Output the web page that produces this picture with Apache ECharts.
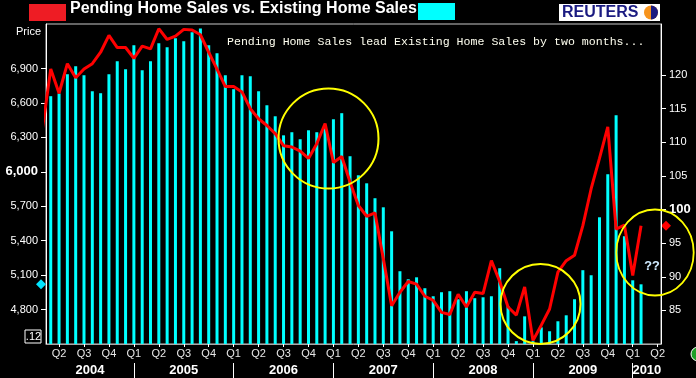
<!DOCTYPE html>
<html>
<head>
<meta charset="utf-8">
<script src="https://cdn.jsdelivr.net/npm/echarts@6/dist/echarts.min.js"></script>
<style>
  html, body { margin: 0; padding: 0; background: #000; }
  #chart { width: 696px; height: 378px; }
</style>
</head>
<body>
<div id="chart"></div>
<script>
// months shown on the chart (pending index starts one month earlier)
const months = [
  '2004-02', '2004-03', '2004-04', '2004-05', '2004-06', '2004-07', '2004-08', '2004-09', '2004-10', '2004-11', '2004-12',
  '2005-01', '2005-02', '2005-03', '2005-04', '2005-05', '2005-06', '2005-07', '2005-08', '2005-09', '2005-10', '2005-11', '2005-12',
  '2006-01', '2006-02', '2006-03', '2006-04', '2006-05', '2006-06', '2006-07', '2006-08', '2006-09', '2006-10', '2006-11', '2006-12',
  '2007-01', '2007-02', '2007-03', '2007-04', '2007-05', '2007-06', '2007-07', '2007-08', '2007-09', '2007-10', '2007-11', '2007-12',
  '2008-01', '2008-02', '2008-03', '2008-04', '2008-05', '2008-06', '2008-07', '2008-08', '2008-09', '2008-10', '2008-11', '2008-12',
  '2009-01', '2009-02', '2009-03', '2009-04', '2009-05', '2009-06', '2009-07', '2009-08', '2009-09', '2009-10', '2009-11', '2009-12',
  '2010-01', '2010-02'
];

// Pending home sales index (right axis), Feb 2004 .. Feb 2010
const pending = [
  112.0, 120.9, 117.3, 121.7, 119.6, 120.9, 121.7, 123.4, 125.9, 124.1, 124.1,
  122.5, 124.3, 123.9, 126.9, 125.3, 125.8, 126.8, 126.7, 126.0, 123.4, 120.9, 118.3,
  118.3, 117.5, 115.0, 113.5, 112.5, 111.3, 109.5, 109.3, 108.7, 107.6, 109.8, 112.8,
  107.0, 107.9, 104.1, 100.6, 99.0, 99.5, 92.7, 85.7, 87.7, 89.3, 88.9, 87.1,
  86.5, 84.7, 84.4, 87.4, 85.5, 87.7, 87.5, 92.4, 89.3, 85.5, 84.3, 88.5,
  80.5, 82.8, 85.2, 90.7, 92.4, 93.2, 97.6, 103.1, 107.6, 112.3, 97.1, 97.7,
  90.2, 97.6
];

// Existing home sales, thousands (left axis), Mar 2004 .. Feb 2010
const existingMonths = months.slice(1);
const existing = [
  6659, 6682, 6850, 6920, 6842, 6702, 6685, 6850, 6963, 6894,
  7103, 6885, 6963, 7120, 7085, 7164, 7138, 7216, 7249, 7103, 7033, 6842,
  6720, 6842, 6833, 6702, 6580, 6484, 6318, 6345, 6284, 6362, 6345, 6397,
  6458, 6511, 6136, 5970, 5900, 5770, 5691, 5482, 5134, 5064, 5081, 4986,
  4916, 4951, 4960, 4890, 4960, 4899, 4907, 4916, 5160, 4829, 4525, 4741,
  4525, 4645, 4611, 4698, 4750, 4890, 5143, 5099, 5604, 5979, 6493, 5439,
  5055, 5020
];

const leftTicks = [4800, 5100, 5400, 5700, 6000, 6300, 6600, 6900];
const rightTicks = [85, 90, 95, 100, 105, 110, 115, 120];
const quarterLabels = ['Q1', 'Q2', 'Q3', 'Q4'];
const years = ['2004', '2005', '2006', '2007', '2008', '2009', '2010'];

// x axis runs in months since Jan 2004
const xMin = 1.43, xMax = 75.4;
const monthIndex = m => (Number(m.slice(0, 4)) - 2004) * 12 + Number(m.slice(5, 7)) - 1;
const quarterTicks = [];
for (let v = 3; v <= 75; v += 3) quarterTicks.push(v);
const yearTicks = years.slice(1).map((y, i) => (i + 1) * 12);
const yearCenters = years.map((y, i) => {
  const a = Math.max(i * 12, xMin), b = Math.min((i + 1) * 12, xMax);
  return (a + b) / 2;
});

const fmt = v => String(v).replace(/\B(?=(\d{3})+(?!\d))/g, ',');
const font = 'Liberation Sans, Arial, sans-serif';

const chart = echarts.init(document.getElementById('chart'));

const option = {
  backgroundColor: '#000',
  animation: false,
  title: {
    text: 'Pending Home Sales vs. Existing Home Sales',
    left: 70,
    top: 1,
    padding: 0,
    textStyle: { color: '#fff', fontSize: 16, fontWeight: 'bold', fontFamily: font }
  },
  grid: {
    left: 46, right: 35, top: 24, bottom: 34,
    show: true, borderColor: '#c8c8c8', borderWidth: 1, backgroundColor: '#000'
  },
  xAxis: [
    {
      type: 'value', min: xMin, max: xMax,
      axisLine: { show: true, lineStyle: { color: '#a8a8a8' } },
      axisTick: { show: true, length: 3, customValues: quarterTicks, lineStyle: { color: '#fff' } },
      axisLabel: {
        customValues: quarterTicks, margin: 4, color: '#e6e6e6', fontSize: 11, fontFamily: font,
        formatter: v => quarterLabels[Math.round(v / 3) % 4]
      },
      splitLine: { show: false }
    },
    {
      type: 'value', min: xMin, max: xMax, position: 'bottom', offset: 19,
      axisLine: { show: false },
      axisTick: { show: true, length: 16, customValues: yearTicks, lineStyle: { color: '#fff' } },
      axisLabel: {
        customValues: yearCenters, margin: 1, color: '#fff', fontSize: 13, fontWeight: 'bold', fontFamily: font,
        formatter: v => years[Math.floor(v / 12)]
      },
      splitLine: { show: false }
    }
  ],
  yAxis: [
    {
      type: 'value', min: 4500, max: 7288, position: 'left',
      axisLine: { show: true, lineStyle: { color: '#fff' } },
      axisTick: { show: true, length: 5, customValues: leftTicks, lineStyle: { color: '#fff' } },
      axisLabel: {
        customValues: leftTicks, margin: 8, color: '#fff', fontSize: 11, fontFamily: font,
        formatter: v => v === 6000 ? '{b|' + fmt(v) + '}' : fmt(v),
        rich: { b: { color: '#fff', fontSize: 13, fontWeight: 'bold', fontFamily: font } }
      },
      splitLine: { show: false }
    },
    {
      type: 'value', min: 80, max: 127.6, position: 'right',
      axisLine: { show: true, lineStyle: { color: '#fff' } },
      axisTick: { show: true, length: 5, customValues: rightTicks, lineStyle: { color: '#fff' } },
      axisLabel: {
        customValues: rightTicks, margin: 8, color: '#fff', fontSize: 11, fontFamily: font,
        formatter: v => v === 100 ? '{b|100}' : String(v),
        rich: { b: { color: '#fff', fontSize: 13, fontWeight: 'bold', fontFamily: font } }
      },
      splitLine: { show: false }
    }
  ],
  series: [
    {
      name: 'Existing Home Sales',
      type: 'bar',
      xAxisIndex: 0, yAxisIndex: 0,
      barWidth: 3,
      itemStyle: { color: '#00ffff' },
      data: existingMonths.map((m, i) => [monthIndex(m), existing[i]])
    },
    {
      name: 'Pending Home Sales',
      type: 'line',
      xAxisIndex: 0, yAxisIndex: 1,
      symbol: 'none',
      z: 5,
      lineStyle: { color: '#ff0000', width: 3 },
      data: months.map((m, i) => [monthIndex(m), pending[i]])
    }
  ],
  graphic: [
    { id: 'redBox', type: 'rect', shape: { x: 29, y: 4, width: 37, height: 17 }, style: { fill: '#ee1c24' } },
    { id: 'cyanBox', type: 'rect', shape: { x: 418, y: 3, width: 37, height: 17 }, style: { fill: '#00ffff' } },
    { id: 'logoBg', type: 'rect', shape: { x: 559, y: 4, width: 101, height: 17 }, style: { fill: '#fff' } },
    {
      id: 'logoText', type: 'text', x: 562, y: 13,
      style: { text: 'REUTERS', fill: '#1a1a80', font: 'bold 16px ' + font, textVerticalAlign: 'middle' }
    },
    { id: 'globeA', type: 'circle', shape: { cx: 651, cy: 12.5, r: 7 }, style: { fill: '#f7941d' } },
    {
      id: 'globeB', type: 'sector',
      shape: { cx: 651, cy: 12.5, r: 7, r0: 0, startAngle: -Math.PI / 2, endAngle: Math.PI / 2 },
      style: { fill: '#1a1a80' }
    },
    {
      id: 'price', type: 'text', x: 41, y: 32,
      style: { text: 'Price', fill: '#fff', font: '11px ' + font, textAlign: 'right', textVerticalAlign: 'middle' }
    },
    {
      id: 'note', type: 'text', x: 227, y: 42,
      style: {
        text: 'Pending Home Sales lead Existing Home Sales by two months...',
        fill: '#fffff0', font: '11.6px Liberation Mono, Courier New, monospace', textVerticalAlign: 'middle'
      }
    },
    { id: 'c1', type: 'circle', z: 10, shape: { cx: 328.5, cy: 138.5, r: 50 }, style: { fill: 'none', stroke: '#ffff00', lineWidth: 2 } },
    { id: 'c2', type: 'circle', z: 10, shape: { cx: 540.5, cy: 304, r: 40 }, style: { fill: 'none', stroke: '#ffff00', lineWidth: 2 } },
    {
      id: 'c3', type: 'circle', z: 10, x: 655, y: 252.5, scaleX: 0.9,
      shape: { cx: 0, cy: 0, r: 43 }, style: { fill: 'none', stroke: '#ffff00', lineWidth: 2 }
    },
    {
      id: 'qq', type: 'text', x: 652, y: 267, z: 11,
      style: {
        text: '??', fill: '#cfeaff', font: 'bold 13px Liberation Mono, monospace',
        textAlign: 'center', textVerticalAlign: 'middle', stroke: '#000', lineWidth: 2
      }
    },
    { id: 'lastBox', type: 'rect', shape: { x: 25, y: 330, width: 16, height: 13 }, style: { fill: '#000', stroke: '#fff', lineWidth: 1 } },
    {
      id: 'lastText', type: 'text', x: 33.5, y: 337,
      style: { text: '.12', fill: '#fff', font: '11px ' + font, textAlign: 'center', textVerticalAlign: 'middle' }
    },
    { id: 'dot', type: 'circle', shape: { cx: 698, cy: 354, r: 7 }, style: { fill: '#1e9e28', stroke: '#fff', lineWidth: 1 } }
  ]
};

chart.setOption(option);

// last-value diamonds on both axes
const yBar = chart.convertToPixel({ yAxisIndex: 0 }, existing[existing.length - 1]);
const yLine = chart.convertToPixel({ yAxisIndex: 1 }, pending[pending.length - 1]);
chart.setOption({
  graphic: [
    { id: 'lastBar', type: 'polygon', shape: { points: [[41, yBar - 5], [46, yBar], [41, yBar + 5], [36, yBar]] }, style: { fill: '#00e5ff' } },
    { id: 'lastLine', type: 'polygon', shape: { points: [[666, yLine - 5], [671, yLine], [666, yLine + 5], [661, yLine]] }, style: { fill: '#ff0000' } }
  ]
});
</script>
</body>
</html>
